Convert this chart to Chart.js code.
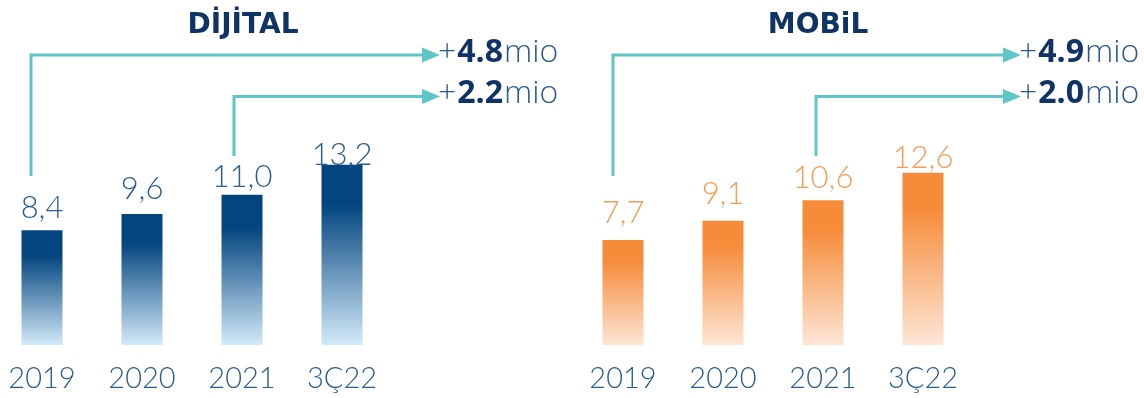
<!DOCTYPE html>
<html><head><meta charset="utf-8">
<script src="https://cdn.jsdelivr.net/npm/chart.js@4.4.0/dist/chart.umd.min.js"></script>
<style>
html,body{margin:0;padding:0;background:#fff;width:1144px;height:398px;overflow:hidden;position:relative}
#wrapL{position:absolute;left:-8px;top:0;width:578px;height:416px}
#wrapR{position:absolute;left:573px;top:0;width:571px;height:416px}
</style></head><body>
<div id="wrapL"><canvas id="cL"></canvas></div>
<div id="wrapR"><canvas id="cR"></canvas></div>
<script>
const categories = ['2019', '2020', '2021', '3Ç22'];
const digitalValues = [8.4, 9.6, 11.0, 13.2];
const mobilValues = [7.7, 9.1, 10.6, 12.6];
const digitalTitle = 'DİJİTAL';
const mobilTitle = 'MOBiL';
const digitalGrowth = ['4.8', '2.2'];
const mobilGrowth = ['4.9', '2.0'];
const growthUnit = 'mio';
const yMax = 18;

const FONT = 'Lato, "Open Sans", sans-serif';
const ANN_FONT = '"Open Sans", Lato, sans-serif';
const TITLE_FONT = '"DejaVu Sans", sans-serif';
const TEAL = '#5EC6C5';

function fmt(v){ return v.toFixed(1).replace('.', ','); }

function grad(ctx, style){
  const chart = ctx.chart;
  if (!chart.chartArea || ctx.type !== 'data') return style.top;
  const y = chart.scales.y;
  const t = y.getPixelForValue(ctx.raw), b = y.getPixelForValue(0);
  const g = chart.ctx.createLinearGradient(0, t, 0, b);
  g.addColorStop(0, style.top);
  g.addColorStop(style.solid, style.top);
  g.addColorStop(1, style.bottom);
  return g;
}

const overlay = {
  id: 'overlay',
  afterDatasetsDraw(chart, args, o){
    const c = chart.ctx;
    const meta = chart.getDatasetMeta(0);
    const values = chart.data.datasets[0].data;
    const xs = chart.scales.x;
    c.save();
    // value labels
    c.font = '300 31px ' + FONT;
    c.fillStyle = o.labelColor;
    c.textAlign = 'center';
    c.textBaseline = 'alphabetic';
    meta.data.forEach((bar, i) => {
      c.fillText(fmt(values[i]), bar.x, bar.y - o.labelLift[i]);
    });
    // title
    c.font = 'bold 28px ' + TITLE_FONT;
    c.fillStyle = '#0E3466';
    c.fillText(o.title, o.titleX, 33);
    // brackets
    const tip = xs.getPixelForValue(categories.length - 1) + 98;
    const rows = [
      {x: xs.getPixelForValue(0) + o.vShift[0], yBottom: 176, y: 55, base: 62},
      {x: xs.getPixelForValue(2) + o.vShift[1], yBottom: 156, y: 96.5, base: 103}
    ];
    rows.forEach((r, k) => {
      c.strokeStyle = TEAL; c.lineWidth = 3; c.lineJoin = 'miter';
      c.beginPath();
      c.moveTo(r.x, r.yBottom);
      c.lineTo(r.x, r.y);
      c.lineTo(tip - 14, r.y);
      c.stroke();
      c.fillStyle = TEAL;
      c.beginPath();
      c.moveTo(tip - 18, r.y - 7.5);
      c.lineTo(tip, r.y);
      c.lineTo(tip - 18, r.y + 7.5);
      c.closePath();
      c.fill();
      // text
      c.textAlign = 'left';
      let x = tip - 2;
      c.font = '300 32px ' + ANN_FONT; c.fillStyle = '#2A5A90';
      c.fillText('+', x, r.base); x += c.measureText('+').width + 1;
      c.font = 'bold 32px ' + ANN_FONT; c.fillStyle = '#0F3366';
      c.fillText(o.growth[k], x, r.base); x += c.measureText(o.growth[k]).width + 1;
      c.font = '300 32px ' + ANN_FONT; c.fillStyle = '#2A5A90';
      c.fillText(growthUnit, x, r.base);
    });
    c.restore();
  }
};

function makeChart(id, values, style, ov, padRight){
  return new Chart(document.getElementById(id), {
    type: 'bar',
    data: {
      labels: categories,
      datasets: [{
        data: values,
        backgroundColor: ctx => grad(ctx, style),
        borderWidth: 0,
        barPercentage: 0.41,
        categoryPercentage: 1
      }]
    },
    options: {
      responsive: true,
      maintainAspectRatio: false,
      animation: false,
      events: [],
      layout: {padding: {left: 0, right: padRight, top: 99, bottom: 4}},
      scales: {
        x: {
          grid: {display: false, drawTicks: false},
          border: {display: false},
          ticks: {color: '#2B5C92', font: {family: FONT, size: 29, weight: 300}, padding: 16}
        },
        y: {display: false, min: 0, max: yMax}
      },
      plugins: {legend: {display: false}, tooltip: {enabled: false}, overlay: ov}
    },
    plugins: [overlay]
  });
}

makeChart('cL', digitalValues,
  {top: '#03457F', bottom: '#D3EAF9', solid: 0.22},
  {labelColor: '#2B5C92', labelLift: [12, 15, 8, 0], title: digitalTitle, titleX: 251, vShift: [-11, -8], growth: digitalGrowth},
  178);
makeChart('cR', mobilValues,
  {top: '#F68B3A', bottom: '#FDE6D6', solid: 0.2},
  {labelColor: '#F79B55', labelLift: [17, 17, 12, 5], title: mobilTitle, titleX: 245, vShift: [-10, -7], growth: mobilGrowth},
  171);
</script>
</body></html>
